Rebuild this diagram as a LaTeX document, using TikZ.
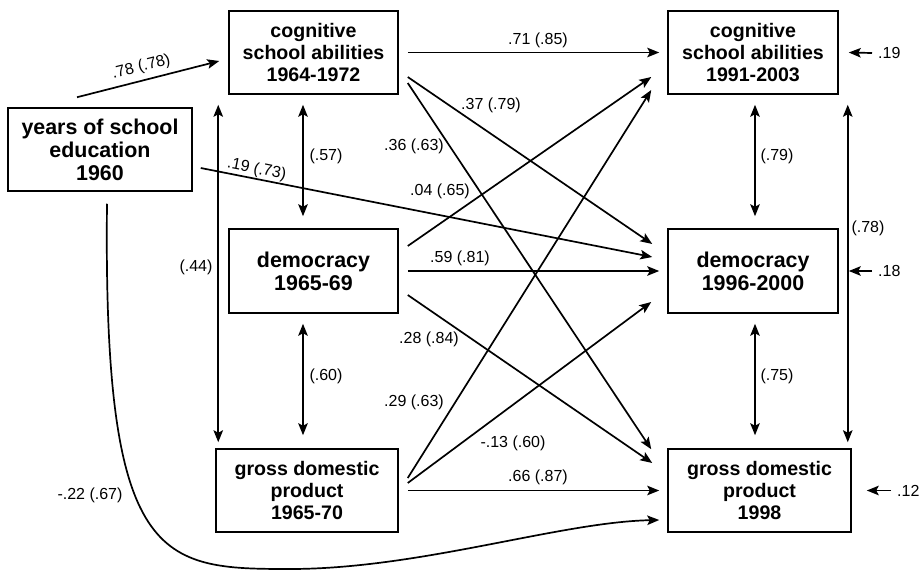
\documentclass[tikz,border=0pt]{standalone}
\usepackage{fontspec}
\setmainfont{Liberation Sans}
\usetikzlibrary{arrows.meta}
\begin{document}
\begin{tikzpicture}[x=1pt,y=-1pt,
  box/.style={draw,line width=1.5pt,inner sep=0pt,align=center},
  bigtxt/.style={font=\fontsize{21.4pt}{23pt}\selectfont\bfseries},
  smtxt/.style={font=\fontsize{19.6pt}{21.7pt}\selectfont\bfseries},
  lab/.style={font=\fontsize{16pt}{18pt}\selectfont,inner sep=1pt},
  tip/.style={},
  arr/.style={line width=1.7pt,-{Stealth[length=12pt,width=9.5pt,inset=2.5pt]}},
  dbl/.style={line width=1.7pt,{Stealth[length=12pt,width=9.5pt,inset=2.5pt]}-{Stealth[length=12pt,width=9.5pt,inset=2.5pt]}}]
\useasboundingbox (0,0) rectangle (921,570);

% boxes
\node[box,bigtxt,minimum width=184pt,minimum height=83pt] (Y) at (100,149.5) {years of school\\education\\1960};
\node[box,smtxt,minimum width=169pt,minimum height=83pt] (C1) at (313.5,52.5) {cognitive\\school abilities\\1964-1972};
\node[box,bigtxt,minimum width=169pt,minimum height=84pt] (D1) at (313.5,271) {democracy\\1965-69};
\node[box,smtxt,minimum width=182pt,minimum height=83pt] (G1) at (307,490.5) {gross domestic\\product\\1965-70};
\node[box,smtxt,minimum width=170pt,minimum height=83pt] (C2) at (753,52.5) {cognitive\\school abilities\\1991-2003};
\node[box,bigtxt,minimum width=170pt,minimum height=84pt] (D2) at (753,271) {democracy\\1996-2000};
\node[box,smtxt,minimum width=183pt,minimum height=83pt] (G2) at (759.5,490.5) {gross domestic\\product\\1998};

% from years of school education
\draw[arr] ([shift={(-23,-10)}]Y.north) -- node[lab,sloped,pos=0.475,above=4pt]{.78 (.78)} ([shift={(-9,8.5)}]C1.west);
\draw[arr] ([shift={(8,18.5)}]Y.east) -- node[lab,sloped,pos=0.12,above=0pt]{.19 (.73)} ([shift={(-15,-14)}]D2.west);
\draw[arr] ([shift={(7,12)}]Y.south) .. controls (103,565) and (160,569) .. (290,569)
  .. controls (420,569) and (560,522) .. ([shift={(-8,29.5)}]G2.west);
\node[lab] (l22) at (90,495) {-.22 (.67)};

% correlations left
\draw[dbl] ([shift={(-10,10)}]C1.south west) -- ([shift={(3,-6)}]G1.north west);
\node[lab] (l44) at (196,267) {(.44)};
\draw[dbl] ([shift={(-10.5,10)}]C1.south) -- ([shift={(-10.5,-12)}]D1.north);
\node[lab] (l57) at (326,156) {(.57)};
\draw[dbl] ([shift={(-10.5,10)}]D1.south) -- ([shift={(-4,-13)}]G1.north);
\node[lab] (l60) at (326,376) {(.60)};

% correlations right
\draw[dbl] ([shift={(2,10)}]C2.south) -- ([shift={(2,-12)}]D2.north);
\node[lab] (l79) at (777,156) {(.79)};
\draw[dbl] ([shift={(2,10)}]D2.south) -- ([shift={(-4.5,-13)}]G2.north);
\node[lab] (l75) at (777,376) {(.75)};
\draw[dbl] ([shift={(9,10)}]C2.south east) -- ([shift={(-4,-6)}]G2.north east);
\node[lab] (l78) at (868,228) {(.78)};

% residuals
\node[lab,anchor=west] (E1) at (877,53) {.19};
\draw[arr] ([xshift=-5pt]E1.west) -- ([xshift=10pt]C2.east);
\node[lab,anchor=west] (E2) at (877,271) {.18};
\draw[arr] ([xshift=-5pt]E2.west) -- ([xshift=10pt]D2.east);
\node[lab,anchor=west] (E3) at (896,490.5) {.12};
\draw[arr] ([xshift=-5pt]E3.west) -- ([xshift=15pt]G2.east);

% paths from cognitive 1964-1972
\draw[arr] ([xshift=9pt]C1.east) -- ([xshift=-8pt]C2.west);
\draw[arr] ([shift={(9,24.5)}]C1.east) -- ([shift={(-15,-27)}]D2.west);
\draw[arr] ([shift={(9,30.5)}]C1.east) -- ([shift={(-16,1)}]G2.north west);
% paths from democracy 1965-69
\draw[arr] ([shift={(9,-25)}]D1.east) -- ([shift={(-16,24.5)}]C2.west);
\draw[arr] ([xshift=9pt]D1.east) -- ([xshift=-8pt]D2.west);
\draw[arr] ([shift={(9,24)}]D1.east) -- ([shift={(-15,-27.5)}]G2.west);
% paths from gdp 1965-70
\draw[arr] ([shift={(9,-12.5)}]G1.east) -- ([shift={(-16,37.5)}]C2.west);
\draw[arr] ([shift={(9,-7.5)}]G1.east) -- ([shift={(-16,31)}]D2.west);
\draw[arr] ([xshift=9pt]G1.east) -- ([xshift=-8pt]G2.west);

% path labels
\node[lab] (l71) at (538,40) {.71 (.85)};
\node[lab] (l37) at (491,105) {.37 (.79)};
\node[lab] (l36) at (414,146) {.36 (.63)};
\node[lab] (l04) at (440,191) {.04 (.65)};
\node[lab] (l59) at (460,258) {.59 (.81)};
\node[lab] (l28) at (429,339) {.28 (.84)};
\node[lab] (l29) at (414,402) {.29 (.63)};
\node[lab] (l13) at (513,443) {-.13 (.60)};
\node[lab] (l66) at (538,477) {.66 (.87)};
\end{tikzpicture}
\end{document}
